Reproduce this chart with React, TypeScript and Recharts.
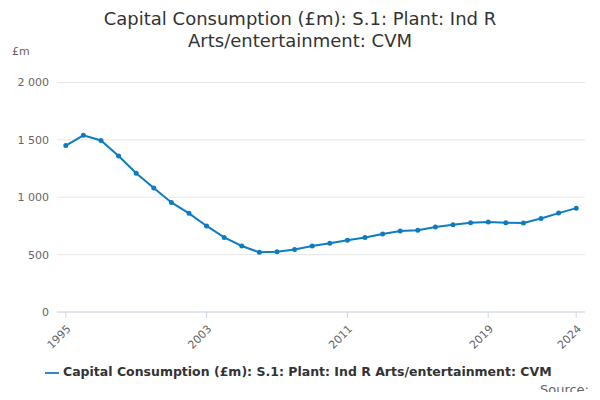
import { LineChart, Line, XAxis, YAxis, CartesianGrid, Legend } from "recharts";

const years = [
  1995, 1996, 1997, 1998, 1999, 2000, 2001, 2002, 2003, 2004, 2005, 2006, 2007, 2008, 2009,
  2010, 2011, 2012, 2013, 2014, 2015, 2016, 2017, 2018, 2019, 2020, 2021, 2022, 2023, 2024,
];
const values = [
  1450, 1540, 1495, 1360, 1210, 1080, 955, 860, 750, 650, 575, 520, 525, 545, 575,
  600, 625, 650, 680, 705, 712, 740, 760, 778, 785, 778, 775, 815, 862, 905,
];
const xTicks = [1995, 2003, 2011, 2019, 2024];
const yTicks = [0, 500, 1000, 1500, 2000];
const seriesName = "Capital Consumption (£m): S.1: Plant: Ind R Arts/entertainment: CVM";

const data = years.map((year, i) => ({ year, value: values[i] }));

const fmt = (v: number) => v.toString().replace(/\B(?=(\d{3})+(?!\d))/g, " ");

const AngledTick = (props: any) => {
  const { x, y, payload } = props;
  return (
    <text x={x} y={y + 4} transform={`rotate(-45 ${x} ${y + 4})`} textAnchor="end" dy={8} fontSize={11} fill="#666">
      {payload.value}
    </text>
  );
};

export default function App() {
  return (
    <div style={{ position: "relative", width: 600, height: 400, margin: -8, fontFamily: "DejaVu Sans, sans-serif", background: "#fff" }}>
      <div style={{ position: "absolute", top: 8, width: 600, textAlign: "center", fontSize: 18, color: "#333", lineHeight: "22px" }}>
        Capital Consumption (£m): S.1: Plant: Ind R
        <br />
        Arts/entertainment: CVM
      </div>
      <div style={{ position: "absolute", left: 12, top: 45, fontSize: 11, color: "#666" }}>£m</div>
      <div style={{ position: "absolute", right: 11, top: 382, fontSize: 13, lineHeight: "16px", color: "#666" }}>Source:</div>
      <div style={{ position: "absolute", left: 0, top: 0 }}>
        <LineChart width={600} height={400} data={data} margin={{ top: 67, right: 15, left: 0, bottom: 38 }}>
          <CartesianGrid vertical={false} stroke="#e6e6e6" />
          <XAxis
            dataKey="year"
            type="number"
            domain={[1994.5, 2024.5]}
            ticks={xTicks}
            tick={<AngledTick />}
            axisLine={{ stroke: "#ccd6eb" }}
            tickLine={{ stroke: "#ccd6eb" }}
            height={50}
          />
          <YAxis
            domain={[0, 2000]}
            ticks={yTicks}
            tickFormatter={fmt}
            axisLine={false}
            tickLine={false}
            tick={{ fontSize: 11, fill: "#666" }}
            width={57}
          />
          <Legend
            verticalAlign="top"
            align="left"
            iconType="plainline"
            wrapperStyle={{ left: 45, top: 364, fontSize: 12.5, fontWeight: "bold", color: "#333" }}
            formatter={(v) => <span style={{ color: "#333" }}>{v}</span>}
          />
          <Line
            type="linear"
            dataKey="value"
            name={seriesName}
            stroke="#0e7cc1"
            strokeWidth={2}
            dot={{ r: 1.5, fill: "#0e7cc1", stroke: "#0e7cc1" }}
            isAnimationActive={false}
          />
        </LineChart>
      </div>
    </div>
  );
}
